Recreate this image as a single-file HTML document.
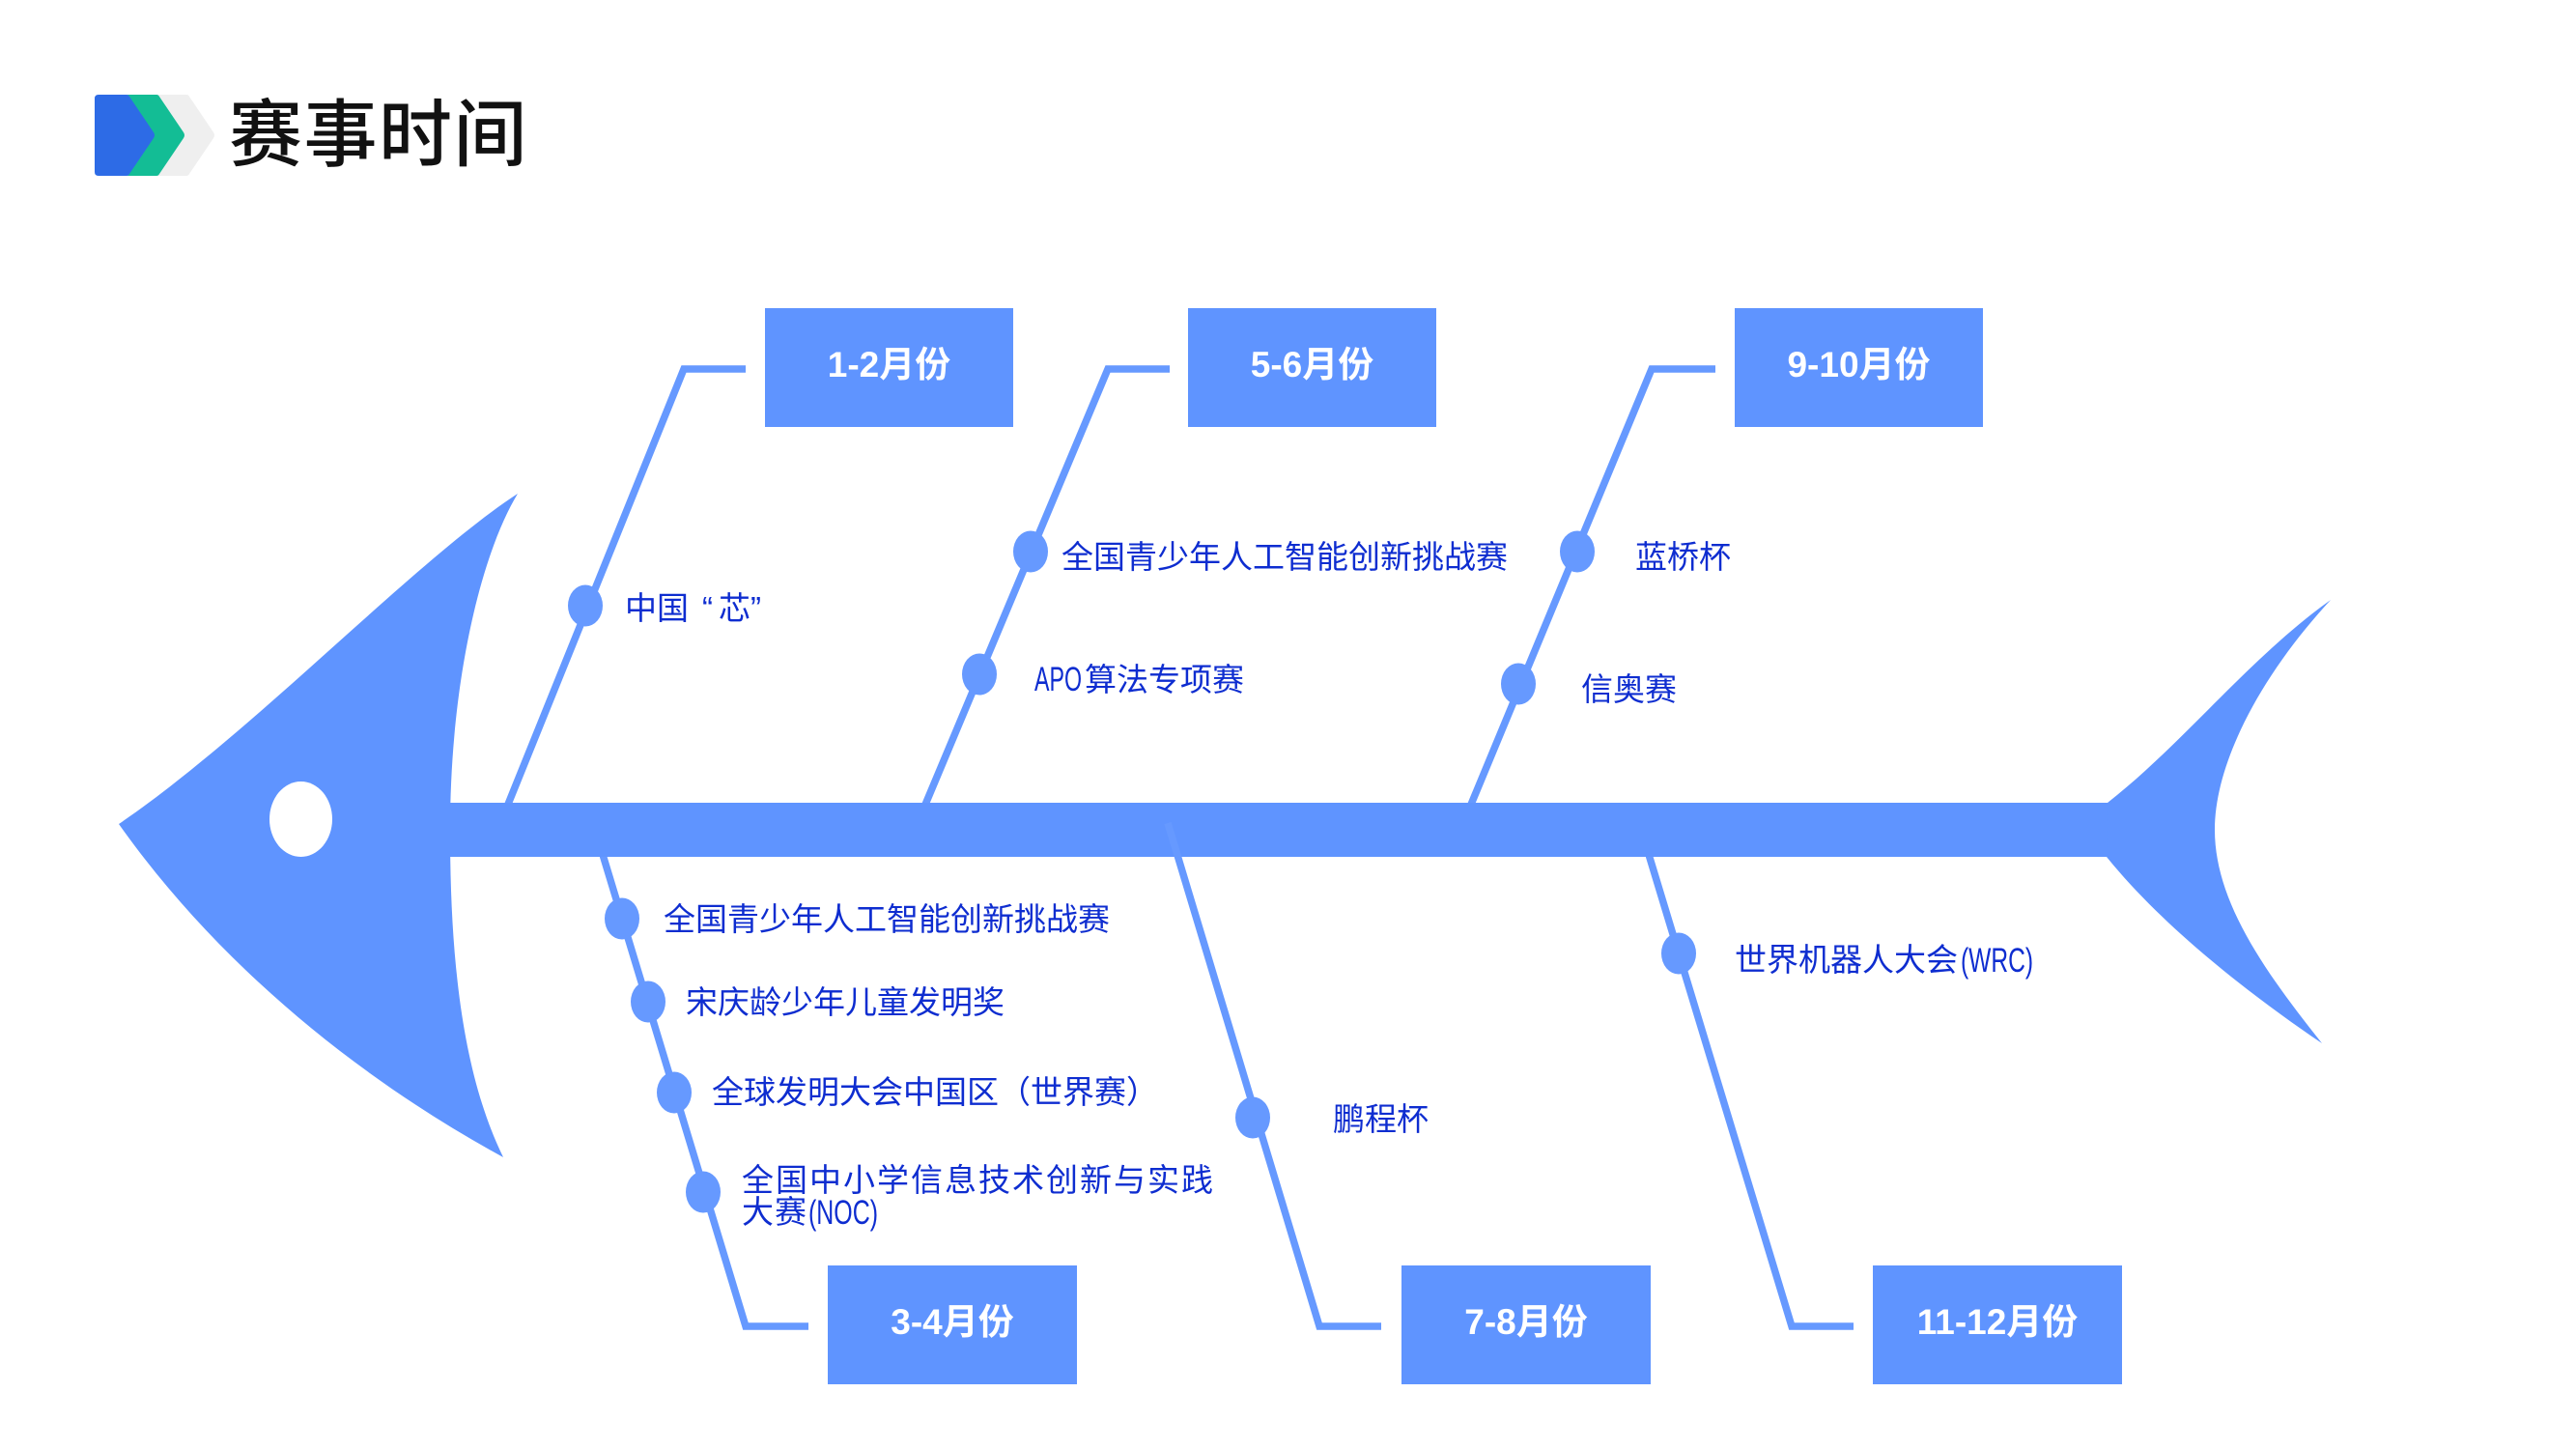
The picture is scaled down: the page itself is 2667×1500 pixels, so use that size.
<!DOCTYPE html>
<html lang="zh">
<head>
<meta charset="utf-8">
<style>
  html, body { margin: 0; padding: 0; background: #ffffff; }
  body { width: 2667px; height: 1500px; overflow: hidden; }
  svg { display: block; }
  .lbl { font-family: "Liberation Sans", "Noto Sans CJK SC", sans-serif; font-size: 33px; fill: #0e2dd0; }
  .nar { font-family: "Liberation Sans", "Noto Sans CJK SC", sans-serif; font-size: 35px; fill: #0e2dd0; }
  .box { font-family: "Liberation Sans", "Noto Sans CJK SC", sans-serif; font-size: 37px; font-weight: 700; fill: #ffffff; }
  .title { font-family: "Liberation Sans", "Noto Sans CJK SC", sans-serif; font-size: 76px; font-weight: 500; fill: #111111; letter-spacing: 1.5px; }
</style>
</head>
<body>
<svg width="2667" height="1500" viewBox="0 0 2667 1500" xmlns="http://www.w3.org/2000/svg">
  <rect x="0" y="0" width="2667" height="1500" fill="#ffffff"/>

  <!-- Logo chevrons -->
  <path d="M164,98 L193,98 Q195,98 196,100 L221,137 Q223,140 221,143 L196,180 Q195,182 193,182 L164,182 Q160,182 160,178 L160,102 Q160,98 164,98 Z" fill="#efefef"/>
  <path d="M133,98 L162,98 Q164,98 165,100 L190,137 Q192,140 190,143 L165,180 Q164,182 162,182 L133,182 Q129,182 129,178 L129,102 Q129,98 133,98 Z" fill="#13bd95"/>
  <path d="M102,98 L131,98 Q133,98 134,100 L159,137 Q161,140 159,143 L134,180 Q133,182 131,182 L102,182 Q98,182 98,178 L98,102 Q98,98 102,98 Z" fill="#2d6be6"/>
  <text class="title" x="237" y="166">赛事时间</text>

  <!-- Branch lines (under spine) -->
  <g fill="none" stroke="#6699ff" stroke-width="7.5" stroke-linejoin="miter" stroke-linecap="butt">
    <polyline points="772,382 708,382 523,840"/>
    <polyline points="1211,382 1147,382 955,840"/>
    <polyline points="1776,382 1710,382 1520,840"/>
    <polyline points="622,878 772,1373 837,1373"/>
    <polyline points="1705,878 1855,1373 1919,1373"/>
  </g>

  <!-- Fish head -->
  <path d="M123,853 C 260,760 430,580 536,511 C 500,570 466,700 466,860 C 466,990 478,1110 521,1198 C 360,1110 220,990 123,853 Z" fill="#5f94ff"/>
  <ellipse cx="311.5" cy="848" rx="32.5" ry="39" fill="#ffffff"/>

  <!-- Spine -->
  <rect x="462" y="831" width="1724" height="56" fill="#5f94ff"/>

  <!-- Tail -->
  <path d="M2182,831 C 2260,770 2330,680 2413,621 C 2340,700 2293,790 2293,859 C 2293,930 2340,1000 2404,1080 C 2330,1030 2240,960 2181,887 Z" fill="#5f94ff"/>

  <!-- 7-8 branch drawn over spine -->
  <polyline points="1209,852 1366,1373 1430,1373" fill="none" stroke="#6699ff" stroke-width="7.5" stroke-linejoin="miter"/>

  <!-- Dots -->
  <g fill="#6699ff">
    <ellipse cx="606" cy="627" rx="18" ry="21.5"/>
    <ellipse cx="1067" cy="571" rx="18" ry="21.5"/>
    <ellipse cx="1014" cy="698" rx="18" ry="21.5"/>
    <ellipse cx="1633" cy="571" rx="18" ry="21.5"/>
    <ellipse cx="1572" cy="708" rx="18" ry="21.5"/>
    <ellipse cx="644" cy="951" rx="18" ry="21.5"/>
    <ellipse cx="671" cy="1037" rx="18" ry="21.5"/>
    <ellipse cx="698" cy="1131" rx="18" ry="21.5"/>
    <ellipse cx="728" cy="1234" rx="18" ry="21.5"/>
    <ellipse cx="1297" cy="1157" rx="18" ry="21.5"/>
    <ellipse cx="1738" cy="987" rx="18" ry="21.5"/>
  </g>

  <!-- Month boxes -->
  <g fill="#5f94ff">
    <rect x="792" y="319" width="257" height="123"/>
    <rect x="1230" y="319" width="257" height="123"/>
    <rect x="1796" y="319" width="257" height="123"/>
    <rect x="857" y="1310" width="258" height="123"/>
    <rect x="1451" y="1310" width="258" height="123"/>
    <rect x="1939" y="1310" width="258" height="123"/>
  </g>
  <text class="box" x="920.5" y="390" text-anchor="middle">1-2月份</text>
  <text class="box" x="1358.5" y="390" text-anchor="middle">5-6月份</text>
  <text class="box" x="1924.5" y="390" text-anchor="middle">9-10月份</text>
  <text class="box" x="986" y="1381" text-anchor="middle">3-4月份</text>
  <text class="box" x="1580" y="1381" text-anchor="middle">7-8月份</text>
  <text class="box" x="2068" y="1381" text-anchor="middle">11-12月份</text>

  <!-- Labels -->
  <text class="lbl" y="641"><tspan x="647">中国</tspan><tspan x="727">“</tspan><tspan x="744">芯</tspan><tspan x="777">”</tspan></text>
  <text class="lbl" x="1099" y="588">全国青少年人工智能创新挑战赛</text>
  <text class="nar" x="1071" y="715" textLength="49" lengthAdjust="spacingAndGlyphs">APO</text>
  <text class="lbl" x="1123" y="715">算法专项赛</text>
  <text class="lbl" x="1693" y="588">蓝桥杯</text>
  <text class="lbl" x="1637" y="725">信奥赛</text>

  <text class="lbl" x="687" y="963">全国青少年人工智能创新挑战赛</text>
  <text class="lbl" x="710" y="1049">宋庆龄少年儿童发明奖</text>
  <text class="lbl" x="737" y="1142">全球发明大会中国区（世界赛）</text>
  <text class="lbl" x="768" y="1233" style="letter-spacing:2px">全国中小学信息技术创新与实践</text>
  <text class="lbl" x="768" y="1266" style="letter-spacing:1px">大赛</text>
  <text class="nar" x="837" y="1267" textLength="72" lengthAdjust="spacingAndGlyphs">(NOC)</text>

  <text class="lbl" x="1380" y="1170">鹏程杯</text>
  <text class="lbl" x="1796" y="1005">世界机器人大会</text>
  <text class="nar" x="2030" y="1006" textLength="75" lengthAdjust="spacingAndGlyphs">(WRC)</text>
</svg>
</body>
</html>
